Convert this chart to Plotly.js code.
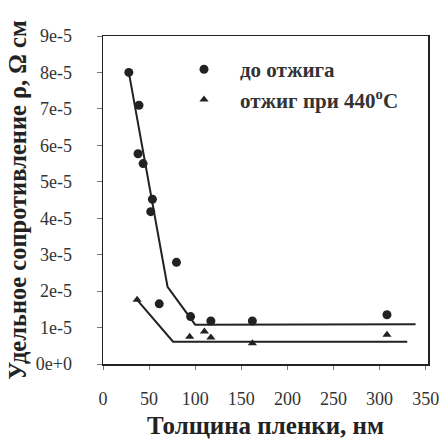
<!DOCTYPE html>
<html>
<head>
<meta charset="utf-8">
<script src="https://cdn.plot.ly/plotly-3.0.1.min.js"></script>
<style>html,body{margin:0;padding:0;background:#fff;}#chart{width:446px;height:439px;}</style>
</head>
<body>
<div id="chart"></div>
<script>
// Measured points: before annealing (circles)
const beforeX = [28, 39, 38, 43.5, 53.6, 51.8, 79.7, 61, 95, 117, 162, 308];
const beforeY = [8.0e-5, 7.1e-5, 5.77e-5, 5.5e-5, 4.52e-5, 4.18e-5, 2.79e-5, 1.65e-5, 1.3e-5, 1.18e-5, 1.18e-5, 1.35e-5];
// Annealed at 440 C (triangles)
const afterX = [37, 94, 110, 117, 162, 308];
const afterY = [1.76e-5, 0.75e-5, 0.89e-5, 0.73e-5, 0.57e-5, 0.8e-5];
// Guide lines
const fitBeforeX = [28, 70, 100, 339];
const fitBeforeY = [8.0e-5, 2.12e-5, 1.08e-5, 1.09e-5];
const fitAfterX = [37, 76, 330];
const fitAfterY = [1.76e-5, 0.61e-5, 0.61e-5];
// Axis ticks
const xTicks = [0, 50, 100, 150, 200, 250, 300, 350];
const yTickVals = [0, 1e-5, 2e-5, 3e-5, 4e-5, 5e-5, 6e-5, 7e-5, 8e-5, 9e-5];
const yTickText = ["0e+0", "1e-5", "2e-5", "3e-5", "4e-5", "5e-5", "6e-5", "7e-5", "8e-5", "9e-5"];

const ink = '#222';
const serif = '"Liberation Serif", "DejaVu Serif", serif';

const traces = [
  {x: fitBeforeX, y: fitBeforeY, mode: 'lines', line: {color: ink, width: 2}, showlegend: false, hoverinfo: 'skip'},
  {x: fitAfterX, y: fitAfterY, mode: 'lines', line: {color: ink, width: 2}, showlegend: false, hoverinfo: 'skip'},
  {x: beforeX, y: beforeY, mode: 'markers', name: 'до отжига',
   marker: {symbol: 'circle', size: 9, color: ink}},
  {x: afterX, y: afterY, mode: 'markers', name: 'отжиг при 440<sup>o</sup>C',
   marker: {symbol: 'triangle-up', size: 8, color: ink}}
];

const layout = {
  width: 446, height: 439,
  margin: {l: 103, r: 18, t: 36, b: 75},
  paper_bgcolor: '#fff', plot_bgcolor: '#fff',
  font: {family: serif, color: '#333', size: 18},
  showlegend: true,
  legend: {x: 0.2, y: 0.96, xanchor: 'left', yanchor: 'top', bgcolor: 'rgba(0,0,0,0)',
    font: {family: serif, size: 21, color: '#333', weight: 'bold'}, itemwidth: 62},
  xaxis: {
    range: [0, 352.5], tickvals: xTicks, ticktext: xTicks.map(String),
    showgrid: false, zeroline: false, showline: true, linecolor: ink, linewidth: 1.5, mirror: true,
    ticks: 'outside', ticklen: 4, tickcolor: '#777', ticklabelstandoff: 14,
    tickfont: {family: serif, size: 18, color: '#333'},
    title: {text: '<b>Толщина пленки, нм</b>', font: {family: serif, size: 25, color: '#222'}, standoff: 10}
  },
  yaxis: {
    range: [0, 9e-5], tickvals: yTickVals, ticktext: yTickText,
    showgrid: false, zeroline: false, showline: true, linecolor: ink, linewidth: 1.5, mirror: true,
    ticks: 'outside', ticklen: 5, tickcolor: '#777', ticklabelstandoff: 21,
    tickfont: {family: serif, size: 18, color: '#333'},
    title: {text: '<b>Удельное сопротивление ρ, Ω см</b>', font: {family: serif, size: 24.5, color: '#222'}, standoff: 2}
  }
};

Plotly.newPlot('chart', traces, layout, {staticPlot: true, displayModeBar: false});
</script>
</body>
</html>
